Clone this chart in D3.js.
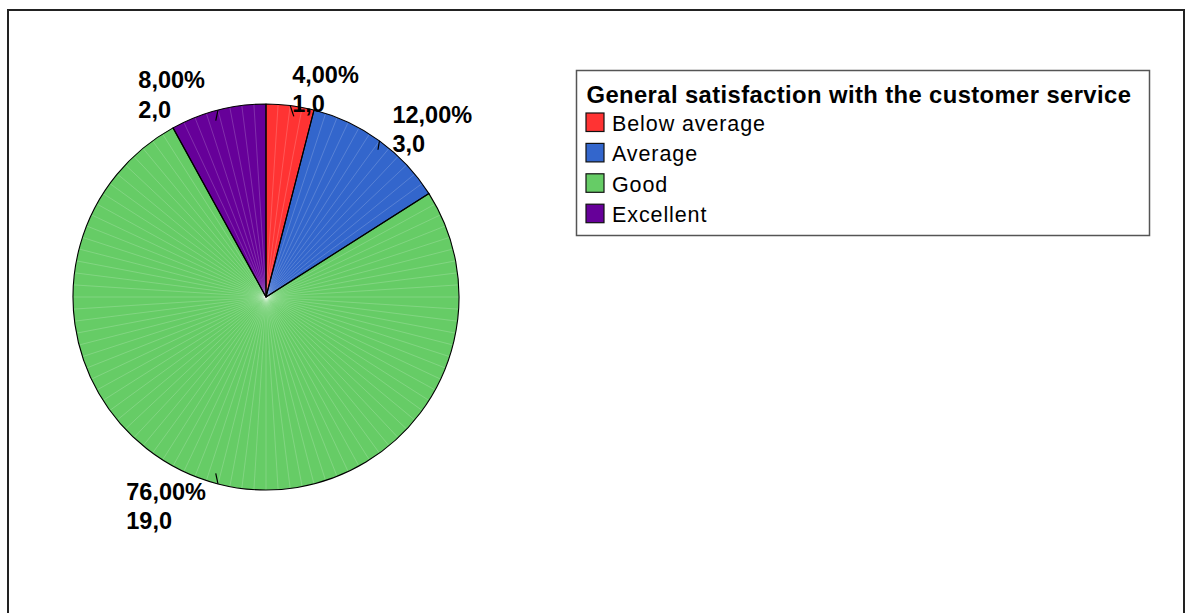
<!DOCTYPE html>
<html>
<head>
<meta charset="utf-8">
<script src="https://cdn.jsdelivr.net/npm/d3@7"></script>
<style>
  html, body { margin: 0; padding: 0; background: #fff; }
  svg { display: block; font-family: "Liberation Sans", Arial, sans-serif; }
</style>
</head>
<body>
<svg id="chart" width="1189" height="613"></svg>
<script>
// ---- data ----
const legendTitle = "General satisfaction with the customer service";
const categories = ["Below average", "Average", "Good", "Excellent"];
const counts = [1, 3, 19, 2];
const percents = [4, 12, 76, 8];
const colors = ["#ff3333", "#3366cc", "#66cc66", "#660099"];

// ---- layout ----
const cx = 266, cy = 297, R = 193;
const svg = d3.select("#chart");

// outer frame
svg.append("rect")
  .attr("x", 8).attr("y", 10).attr("width", 1176).attr("height", 700)
  .attr("fill", "none").attr("stroke", "#222").attr("stroke-width", 2);

const data = categories.map((c, i) => ({ cat: c, count: counts[i], pct: percents[i], color: colors[i] }));

const pie = d3.pie().sort(null).value(d => d.count);
const arcs = pie(data);
const arcGen = d3.arc().innerRadius(0).outerRadius(R);

const g = svg.append("g").attr("transform", `translate(${cx},${cy})`);

g.selectAll("path.slice")
  .data(arcs)
  .enter().append("path")
  .attr("class", "slice")
  .attr("d", arcGen)
  .attr("fill", d => d.data.color);

// faint facet lines (rendering texture)
const facetAngles = d3.range(0, 100).map(k => k * 2 * Math.PI / 100);
g.selectAll("line.facet")
  .data(facetAngles)
  .enter().append("line")
  .attr("class", "facet")
  .attr("x1", 0).attr("y1", 0)
  .attr("x2", a => R * Math.sin(a)).attr("y2", a => -R * Math.cos(a))
  .attr("stroke", "#ffffff").attr("stroke-opacity", 0.3).attr("stroke-width", 0.6);

// slice outlines
g.selectAll("path.outline")
  .data(arcs)
  .enter().append("path")
  .attr("class", "outline")
  .attr("d", arcGen)
  .attr("fill", "none")
  .attr("stroke", "#000").attr("stroke-width", 1.1)
  .attr("stroke-linejoin", "round");

// labels
const fmtPct = v => v.toFixed(2).replace(".", ",") + "%";
const fmtCnt = v => v.toFixed(1).replace(".", ",");
const labelOffsets = [
  { dx: 2, dy: -23, side: "right" },
  { dx: 13, dy: -18, side: "right" },
  { dx: -12, dy: 16, side: "left" },
  { dx: -13, dy: -22, side: "left" }
];
const lineGap = 29.5;

arcs.forEach((a, i) => {
  const mid = (a.startAngle + a.endAngle) / 2;
  const ax = cx + R * Math.sin(mid), ay = cy - R * Math.cos(mid);
  const s = Math.sign(Math.sin(mid));
  // leader tick
  const tx = cx + (R - 11) * Math.sin(mid) + s * 5;
  const ty = cy - (R - 11) * Math.cos(mid);
  svg.append("line")
    .attr("x1", ax).attr("y1", ay).attr("x2", tx).attr("y2", ty)
    .attr("stroke", "#000").attr("stroke-width", 1.2);

  const off = labelOffsets[i];
  const t = svg.append("text")
    .attr("font-size", 23.5).attr("font-weight", "bold").attr("fill", "#000");
  const t1 = t.append("tspan").text(fmtPct(a.data.pct));
  const t2 = t.append("tspan").text(fmtCnt(a.data.count));
  const w = t1.node().getComputedTextLength();
  const x0 = off.side === "right" ? ax + off.dx : ax + off.dx - w;
  const y0 = ay + off.dy;
  t1.attr("x", x0).attr("y", y0);
  t2.attr("x", x0).attr("y", y0 + lineGap);
});

// legend
const lx = 576.5, ly = 70.5, lw = 573, lh = 165;
svg.append("rect")
  .attr("x", lx).attr("y", ly).attr("width", lw).attr("height", lh)
  .attr("fill", "#fff").attr("stroke", "#555").attr("stroke-width", 1.5);
svg.append("text")
  .attr("x", 586.5).attr("y", 103)
  .attr("font-size", 23.8).attr("font-weight", "bold").attr("fill", "#000")
  .attr("letter-spacing", 0.4)
  .text(legendTitle);

const rowY = d3.scaleLinear().domain([0, 1]).range([113, 143.4]);
const items = svg.selectAll("g.item")
  .data(data)
  .enter().append("g")
  .attr("class", "item")
  .attr("transform", (d, i) => `translate(0,${rowY(i)})`);
items.append("rect")
  .attr("x", 586).attr("y", 0).attr("width", 18).attr("height", 18.5)
  .attr("fill", d => d.color).attr("stroke", "#111").attr("stroke-width", 1.2);
items.append("text")
  .attr("x", 612).attr("y", 18)
  .attr("font-size", 21.5).attr("fill", "#000")
  .attr("letter-spacing", 0.9)
  .text(d => d.cat);
</script>
</body>
</html>
